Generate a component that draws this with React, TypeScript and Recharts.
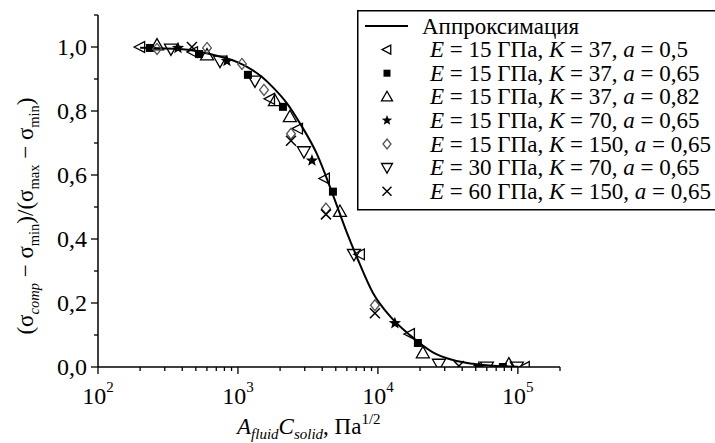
import React from 'react';
import { ComposedChart, Line, Scatter, XAxis, YAxis, Legend } from 'recharts';

const FONT = "'Liberation Serif', 'Times New Roman', Times, serif";
const TXT: React.CSSProperties = { fontFamily: FONT };

// Approximation curve
const curveX = [200, 400, 630, 1000, 1160, 1500, 1780, 2240, 2770, 3670, 4770, 6000, 7080, 9200, 12600, 16900, 24700, 34300, 47700, 70000, 100000];
const curveY = [0.998, 0.993, 0.978, 0.952, 0.938, 0.905, 0.874, 0.824, 0.762, 0.665, 0.538, 0.42, 0.343, 0.232, 0.152, 0.1, 0.046, 0.022, 0.01, 0.003, 0.001];

// E = 15, K = 37, a = 0.5 (◁)
const s1X = [200, 477, 1694, 2683, 4178, 7430, 16930, 112000];
const s1Y = [1.0, 0.984, 0.838, 0.745, 0.589, 0.352, 0.103, 0.0];
// E = 15, K = 37, a = 0.65 (■)
const s2X = [235, 527, 1178, 2096, 4771, 19300, 78100];
const s2Y = [0.997, 0.978, 0.913, 0.813, 0.548, 0.075, 0.0];
// E = 15, K = 37, a = 0.82 (△)
const s3X = [264, 601, 1838, 2350, 5354, 20950, 86300];
const s3Y = [1.006, 0.975, 0.832, 0.782, 0.486, 0.044, 0.009];
// E = 15, K = 70, a = 0.65 (★)
const s4X = [373, 834, 3378, 13220, 52660];
const s4Y = [0.997, 0.956, 0.645, 0.137, 0.0];
// E = 15, K = 150, a = 0.65 (◇)
const s5X = [264, 601, 1068, 1535, 2393, 4253, 9520];
const s5Y = [0.994, 0.997, 0.947, 0.866, 0.729, 0.495, 0.193];
// E = 30, K = 70, a = 0.65 (▽)
const s6X = [332, 744, 1322, 2960, 6741, 27300, 60080, 98400];
const s6Y = [0.994, 0.956, 0.894, 0.673, 0.352, 0.009, 0.0, 0.0];
// E = 60, K = 150, a = 0.65 (×)
const s7X = [469, 2393, 4253, 9520, 37900];
const s7Y = [1.0, 0.707, 0.477, 0.168, 0.003];

const xTicks = [100, 200, 300, 400, 500, 600, 700, 800, 900, 1000, 2000, 3000, 4000, 5000, 6000, 7000, 8000, 9000, 10000, 20000, 30000, 40000, 50000, 60000, 70000, 80000, 90000, 100000, 200000];
const yTicks = [0, 0.1, 0.2, 0.3, 0.4, 0.5, 0.6, 0.7, 0.8, 0.9, 1.0, 1.1];
const yMajor = [0, 0.2, 0.4, 0.6, 0.8, 1.0];

const legendE = ['15', '15', '15', '15', '15', '30', '60'];
const legendK = ['37', '37', '37', '70', '150', '70', '150'];
const legendA = ['0,5', '0,65', '0,82', '0,65', '0,65', '0,65', '0,65'];
const markerTypes = ['left', 'square', 'up', 'star', 'diamond', 'down', 'cross'];

const zip = (xs: number[], ys: number[]) => xs.map((x, i) => ({ x, y: ys[i] }));
const curveData = zip(curveX, curveY);
const seriesData = [zip(s1X, s1Y), zip(s2X, s2Y), zip(s3X, s3Y), zip(s4X, s4Y), zip(s5X, s5Y), zip(s6X, s6Y), zip(s7X, s7Y)];
const plotSizes = [12, 8, 13, 13, 11, 13, 10];
const legendSizes = [10, 7, 11, 11, 10, 11, 9];

function Mk({ t, cx, cy, s }: { t: string; cx: number; cy: number; s: number }) {
  const h = s / 2;
  const sw = 1.3;
  if (cx == null || cy == null) return null;
  switch (t) {
    case 'left':
      return <polygon points={`${cx - h},${cy} ${cx + h * 0.75},${cy - h * 0.9} ${cx + h * 0.75},${cy + h * 0.9}`} fill="none" stroke="#000" strokeWidth={sw} />;
    case 'up':
      return <polygon points={`${cx},${cy - h} ${cx + h},${cy + h * 0.75} ${cx - h},${cy + h * 0.75}`} fill="none" stroke="#000" strokeWidth={sw} />;
    case 'down':
      return <polygon points={`${cx},${cy + h} ${cx + h},${cy - h * 0.75} ${cx - h},${cy - h * 0.75}`} fill="none" stroke="#000" strokeWidth={sw} />;
    case 'square':
      return <rect x={cx - h} y={cy - h} width={s} height={s} fill="#000" />;
    case 'diamond':
      return <polygon points={`${cx},${cy - h} ${cx + h * 0.8},${cy} ${cx},${cy + h} ${cx - h * 0.8},${cy}`} fill="none" stroke="#555" strokeWidth={sw} />;
    case 'cross':
      return (
        <g stroke="#000" strokeWidth={1.5}>
          <line x1={cx - h} y1={cy - h} x2={cx + h} y2={cy + h} />
          <line x1={cx - h} y1={cy + h} x2={cx + h} y2={cy - h} />
        </g>
      );
    case 'star': {
      const pts: string[] = [];
      for (let i = 0; i < 10; i++) {
        const ang = (-90 + i * 36) * Math.PI / 180;
        const r = i % 2 === 0 ? h : h * 0.42;
        pts.push(`${cx + r * Math.cos(ang)},${cy + r * Math.sin(ang)}`);
      }
      return <polygon points={pts.join(' ')} fill="#000" />;
    }
    default:
      return null;
  }
}

const XTick = (props: any) => {
  const { x, y, payload } = props;
  const v = payload.value;
  const lg = Math.log10(v);
  const major = Math.abs(lg - Math.round(lg)) < 1e-6;
  return (
    <g>
      <line x1={x} x2={x} y1={y} y2={y + (major ? 7 : 4)} stroke="#000" strokeWidth={1.3} />
      {major && v <= 100000 && (
        <text x={x} y={y + 37} textAnchor="middle" style={TXT} fontSize={24} fill="#000">
          10<tspan dy={-12} fontSize={15}>{Math.round(lg)}</tspan>
        </text>
      )}
    </g>
  );
};

const YTick = (props: any) => {
  const { x, y, payload } = props;
  const v = payload.value;
  const major = yMajor.some((m) => Math.abs(m - v) < 1e-6);
  return (
    <g>
      <line x1={x} x2={x - (major ? 7 : 4)} y1={y} y2={y} stroke="#000" strokeWidth={1.3} />
      {major && (
        <text x={x - 11} y={y} dy="0.35em" textAnchor="end" style={TXT} fontSize={24} fill="#000">
          {v.toFixed(1).replace('.', ',')}
        </text>
      )}
    </g>
  );
};

const YLabel = () => (
  <text transform="translate(33,216) rotate(-90)" textAnchor="middle" style={TXT} fontSize={23} fill="#000">
    (σ<tspan dy={6} fontSize={14.5} fontStyle="italic">comp</tspan>
    <tspan dy={-6}> − σ</tspan>
    <tspan dy={6} fontSize={14.5}>min</tspan>
    <tspan dy={-6}>)/(σ</tspan>
    <tspan dy={6} fontSize={14.5}>max</tspan>
    <tspan dy={-6}> − σ</tspan>
    <tspan dy={6} fontSize={14.5}>min</tspan>
    <tspan dy={-6}>)</tspan>
  </text>
);

const XLabel = () => (
  <text x={237} y={434} textAnchor="start" style={TXT} fontSize={23} fill="#000">
    <tspan fontStyle="italic">A</tspan>
    <tspan dy={5} fontSize={15} fontStyle="italic">fluid</tspan>
    <tspan dy={-5} fontStyle="italic">C</tspan>
    <tspan dy={5} fontSize={15} fontStyle="italic">solid</tspan>
    <tspan dy={-5}>, Па</tspan>
    <tspan dy={-10} fontSize={15}>1/2</tspan>
  </text>
);

const LegendBox = () => {
  const rowH = 23.6;
  const y0 = 16;
  return (
    <svg width={358} height={202} style={{ display: 'block', overflow: 'hidden' }}>
      <rect x={0.75} y={0.75} width={400} height={199} fill="#fff" stroke="#000" strokeWidth={1.5} />
      <line x1={8} x2={51} y1={y0} y2={y0} stroke="#000" strokeWidth={2} />
      <text x={65} y={y0} dy="0.33em" style={TXT} fontSize={23} fill="#000">Аппроксимация</text>
      {markerTypes.map((t, i) => {
        const cy = y0 + rowH * (i + 1);
        return (
          <g key={t}>
            <Mk t={t} cx={30} cy={cy} s={legendSizes[i]} />
            <text x={73} y={cy} dy="0.33em" style={TXT} fontSize={23} fill="#000">
              <tspan fontStyle="italic">E</tspan>
              <tspan>{` = ${legendE[i]} ГПа, `}</tspan>
              <tspan fontStyle="italic">K</tspan>
              <tspan>{` = ${legendK[i]}, `}</tspan>
              <tspan fontStyle="italic">a</tspan>
              <tspan>{` = ${legendA[i]}`}</tspan>
            </text>
          </g>
        );
      })}
    </svg>
  );
};

export default function App() {
  return (
    <div style={{ position: 'absolute', left: 0, top: 0, background: '#fff', fontFamily: FONT }}>
      <ComposedChart width={715} height={443} margin={{ top: 15, right: 155, bottom: 0, left: 0 }} style={{ fontFamily: FONT }}>
        <XAxis
          dataKey="x"
          type="number"
          scale="log"
          domain={[100, 200000]}
          allowDataOverflow
          ticks={xTicks}
          interval={0}
          height={76}
          tickSize={0}
          tickMargin={0}
          tickLine={false}
          tick={<XTick />}
          axisLine={{ stroke: '#000', strokeWidth: 1.5 }}
          label={<XLabel />}
        />
        <YAxis
          dataKey="y"
          type="number"
          domain={[0, 1.1]}
          allowDataOverflow
          ticks={yTicks}
          interval={0}
          width={98}
          tickSize={0}
          tickMargin={0}
          tickLine={false}
          tick={<YTick />}
          axisLine={{ stroke: '#000', strokeWidth: 1.5 }}
          label={<YLabel />}
        />
        <Legend
          layout="horizontal"
          verticalAlign="middle"
          align="center"
          wrapperStyle={{ position: 'absolute', left: 357, top: 10, width: 358, height: 202 }}
          content={() => <LegendBox />}
        />
        <Line
          data={curveData}
          dataKey="y"
          type="monotone"
          stroke="#000"
          strokeWidth={2}
          dot={false}
          activeDot={false}
          isAnimationActive={false}
          legendType="none"
        />
        {seriesData.map((d, i) => (
          <Scatter
            key={markerTypes[i]}
            data={d}
            isAnimationActive={false}
            shape={(p: any) => <Mk t={markerTypes[i]} cx={p.cx} cy={p.cy} s={plotSizes[i]} />}
          />
        ))}
      </ComposedChart>
    </div>
  );
}
